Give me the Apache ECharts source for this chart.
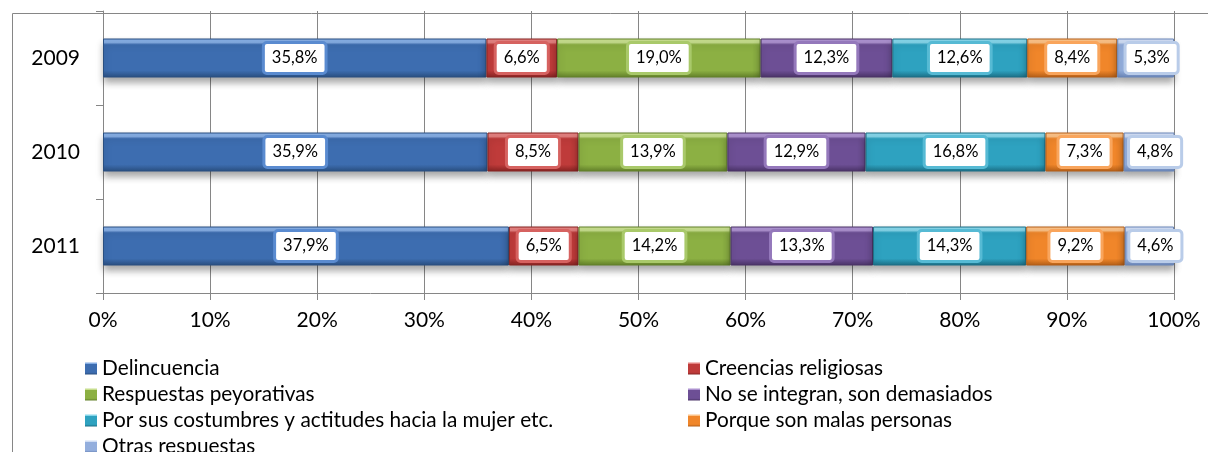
<!DOCTYPE html>
<html>
<head>
<meta charset="utf-8">
<script src="https://cdn.jsdelivr.net/npm/echarts@6/dist/echarts.min.js"></script>
<style>
  html, body { margin: 0; padding: 0; background: #ffffff; }
  #chart { width: 1208px; height: 452px; }
</style>
</head>
<body>
<div id="chart"></div>
<script>
// Years shown on the category axis (top to bottom)
const years = ['2009', '2010', '2011'];

// Share of each answer per year (%)
const delincuencia = [35.8, 35.9, 37.9];
const creencias    = [6.6, 8.5, 6.5];
const peyorativas  = [19.0, 13.9, 14.2];
const noIntegran   = [12.3, 12.9, 13.3];
const costumbres   = [12.6, 16.8, 14.3];
const malas        = [8.4, 7.3, 9.2];
const otras        = [5.3, 4.8, 4.6];

const seriesNames = [
  'Delincuencia',
  'Creencias religiosas',
  'Respuestas peyorativas',
  'No se integran, son demasiados',
  'Por sus costumbres y actitudes hacia la mujer etc.',
  'Porque son malas personas',
  'Otras respuestas'
];
const seriesData = [delincuencia, creencias, peyorativas, noIntegran, costumbres, malas, otras];

// Tick values for the percentage axis
const xTicks = [0, 10, 20, 30, 40, 50, 60, 70, 80, 90, 100];

// Bevelled fill colours: [highlight, base, shade, label border]
const palette = [
  ['#86aee4', '#3d6db0', '#2a4f80', '#5a8bd0'],
  ['#e4817f', '#bf3b3a', '#872423', '#d66260'],
  ['#c7de8e', '#8cb043', '#62802a', '#a9c96a'],
  ['#ad92d0', '#6d4f95', '#4a3367', '#9478bb'],
  ['#86d6ea', '#2ea2c0', '#1c6f86', '#56bad4'],
  ['#fcc287', '#f0862a', '#b45f18', '#f9a55c'],
  ['#d0ddf4', '#93aedd', '#6b86b8', '#b9cce9']
];

function bevel(c) {
  return new echarts.graphic.LinearGradient(0, 0, 0, 1, [
    { offset: 0, color: c[0] },
    { offset: 0.1, color: c[0] },
    { offset: 0.16, color: c[1] },
    { offset: 0.82, color: c[1] },
    { offset: 1, color: c[2] }
  ]);
}

const FONT = 'Lato, "Open Sans", sans-serif';
const GRAY = '#868686';

const series = seriesNames.map((name, i) => ({
  name: name,
  type: 'bar',
  stack: 'total',
  barWidth: 39,
  data: seriesData[i],
  itemStyle: {
    color: bevel(palette[i]),
    borderColor: palette[i][2],
    borderWidth: 1,
    shadowColor: 'rgba(0,0,0,0.35)',
    shadowBlur: 7,
    shadowOffsetY: 5
  },
  label: {
    show: true,
    position: 'inside',
    offset: i === seriesNames.length - 1 ? [6, 0] : [0, 0],
    formatter: p => p.value.toFixed(1).replace('.', ',') + '%',
    color: '#000',
    fontFamily: FONT,
    fontSize: 16.5,
    backgroundColor: '#ffffff',
    borderColor: palette[i][3],
    borderWidth: 3,
    borderRadius: 2,
    padding: [6, 7, 5, 7]
  },
  emphasis: { disabled: true }
}));

const legendCommon = {
  orient: 'vertical',
  height: 140,
  itemWidth: 12,
  itemHeight: 12,
  itemGap: 5,
  icon: 'rect',
  selectedMode: false,
  itemStyle: { shadowBlur: 0, borderWidth: 0 },
  textStyle: { fontFamily: FONT, fontSize: 20.8, color: '#000', lineHeight: 20 }
};

const option = {
  animation: false,
  backgroundColor: '#ffffff',
  grid: { left: 103, right: 34, top: 11, bottom: 159 },
  xAxis: {
    type: 'value',
    min: xTicks[0],
    max: xTicks[xTicks.length - 1],
    interval: xTicks[1] - xTicks[0],
    axisLine: { show: true, lineStyle: { color: GRAY } },
    axisTick: { show: true, length: 7, lineStyle: { color: GRAY } },
    splitLine: { show: true, lineStyle: { color: GRAY, width: 1 } },
    axisLabel: {
      formatter: v => v + '%',
      color: '#000',
      fontFamily: FONT,
      fontSize: 21,
      margin: 17
    }
  },
  yAxis: {
    type: 'category',
    data: years,
    inverse: true,
    axisLine: { show: true, lineStyle: { color: GRAY } },
    axisTick: { show: true, length: 7, lineStyle: { color: GRAY } },
    axisLabel: { color: '#000', fontFamily: FONT, fontSize: 21, margin: 23 }
  },
  legend: [
    Object.assign({}, legendCommon, {
      left: 80, top: 353,
      data: [seriesNames[0], seriesNames[2], seriesNames[4], seriesNames[6]]
    }),
    Object.assign({}, legendCommon, {
      left: 683, top: 353,
      data: [seriesNames[1], seriesNames[3], seriesNames[5]]
    })
  ],
  graphic: [{
    type: 'rect',
    left: 10, top: 11,
    silent: true,
    z: -1,
    shape: { width: 1400, height: 600 },
    style: { fill: 'none', stroke: GRAY, lineWidth: 1 }
  }],
  series: series
};

const chart = echarts.init(document.getElementById('chart'), null, { renderer: 'canvas' });
chart.setOption(option);
</script>
</body>
</html>
